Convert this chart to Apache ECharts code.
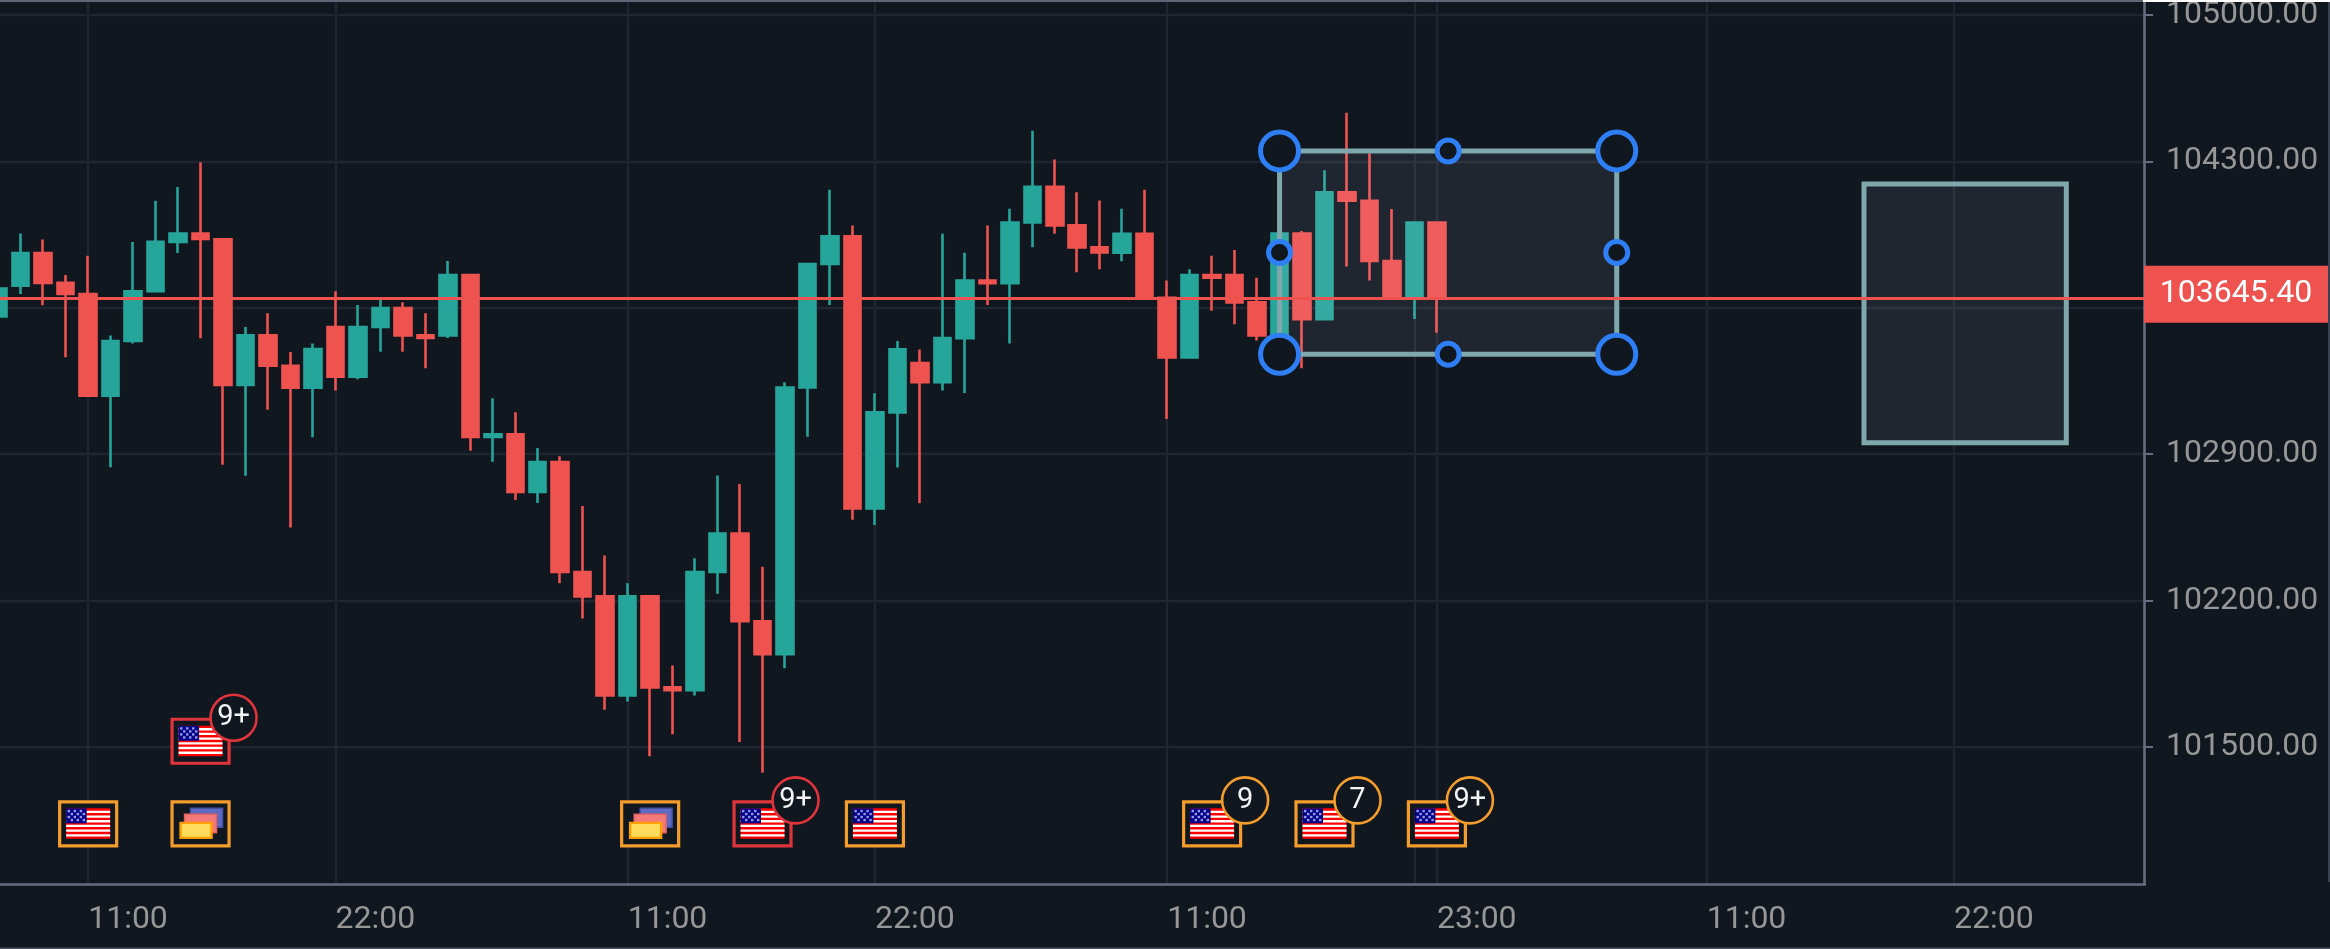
<!DOCTYPE html>
<html>
<head>
<meta charset="utf-8">
<style>html,body{margin:0;padding:0;background:#10171f}#c{width:2330px;height:949px}</style>
<script src="https://cdn.jsdelivr.net/npm/echarts@6/dist/echarts.min.js"></script>
</head>
<body>
<div id="c"></div>
<script>
// --- categories (one candle per hour) ---
const categories = [
 "07:00","08:00","09:00","10:00","11:00","12:00","13:00","14:00","15:00","16:00","17:00","18:00","19:00","20:00","21:00","22:00","23:00",
 "00:00","01:00","02:00","03:00","04:00","05:00","06:00","07:00","08:00","09:00","10:00","11:00","12:00","13:00","14:00","15:00","16:00","17:00","18:00","19:00","20:00","21:00","22:00","23:00",
 "00:00","01:00","02:00","03:00","04:00","05:00","06:00","07:00","08:00","09:00","10:00","11:00","12:00","13:00","14:00","15:00","16:00","17:00","18:00","19:00","20:00","21:00","22:00","23:00",
 "00:00","01:00","02:00","03:00","04:00","05:00","06:00","07:00","08:00","09:00","10:00","11:00","12:00","13:00","14:00","15:00","16:00","17:00","18:00","19:00","20:00","21:00","22:00","23:00",
 "00:00","01:00","02:00","03:00","04:00","05:00","06:00"
];
const timeGridIndex = [4,15,28,39,52,63,64,76,87];
const timeLabelIndex = [4,15,28,39,52,64,76,87];
const priceTicks = [101500,102200,102900,103600,104300,105000];
const lastPrice = 103645.40;

// --- OHLC series ---
const opens  = [103559,103706,103862,103719,103666,103180,103441,103679,103915,103955,103927,103231,103468,103323,103218,103508,103271,103508,103599,103468,103468,103757,102982,102995,102719,102863,102337,102220,101746,102220,101785,101772,102337,102521,102101,101944,103219,103809,103942,102640,103100,103336,103244,103455,103730,103718,104008,104178,103994,103889,103863,103954,103648,103363,103757,103757,103626,103430,103955,103546,104152,104112,103824,103652,104007];
const closes = [103692,103862,103719,103666,103180,103441,103679,103915,103955,103929,103231,103468,103323,103218,103403,103271,103508,103599,103468,103456,103757,102982,102995,102719,102863,102337,102220,101746,102220,101785,101772,102337,102521,102101,101944,103219,103809,103942,102640,103100,103401,103244,103455,103730,103718,104008,104178,103994,103889,103865,103954,103647,103363,103757,103744,103626,103468,103955,103546,104152,104112,103824,103652,104007,103645.4];
const lows   = [103559,103666,103612,103363,103180,102837,103429,103679,103862,103454,102850,102797,103113,102549,102981,103205,103258,103390,103390,103311,103456,102917,102864,102681,102667,102283,102114,101678,101718,101456,101561,101746,102233,101524,101377,101877,102983,103613,102586,102561,102836,102666,103205,103193,103613,103429,103889,103954,103770,103784,103823,103647,103068,103363,103586,103521,103443,103406,103311,103546,103797,103731,103652,103546,103481];
const highs  = [103692,103955,103927,103757,103849,103468,103915,104112,104178,104296,103927,103508,103574,103389,103429,103679,103613,103641,103626,103574,103824,103757,103167,103100,102930,102890,102652,102416,102283,102220,101890,102402,102798,102757,102362,103244,103809,104164,103994,103191,103441,103401,103954,103863,103994,104073,104446,104309,104152,104113,104073,104164,103731,103784,103849,103876,103744,103955,103967,104257,104533,104339,104072,104007,104007];

// --- drawn rectangles ---
const boxStart  = [57,83];
const boxEnd    = [72,92];
const boxTop    = [104350,104192];
const boxBottom = [103378,102955];
const boxHandles = [true,false];

// --- event markers ---
const markerIndex = [4,9,9,29,34,39,54,59,64];
const markerPrice = [101135,101530,101135,101135,101135,101135,101135,101135,101135];
const markerIcon  = ["flag","flag","stack","stack","flag","flag","flag","flag","flag"];
const markerTone  = ["o","r","o","o","r","o","o","o","o"];
const markerBadge = ["","9+","","","9+","","9","7","9+"];

const BG = "#10171f", UP = "#26a69a", DOWN = "#ef5350", AXIS = "#676d7f", GRID = "#1f2531", TXT = "#979797";
const FONT = 'Roboto';
const toneColor = {o:"#f49c2c", r:"#e0343c"};

function flagShapes(cx, cy){
  const out = [];
  const L = cx-22, T = cy-15, W = 44, H = 30.5, S = H/13;
  out.push({type:"rect",shape:{x:L,y:T,width:W,height:H},style:{fill:"#ff0000"}});
  for (let s=1;s<13;s+=2) out.push({type:"rect",shape:{x:L,y:T+s*S,width:W,height:S},style:{fill:"#ffffff"}});
  out.push({type:"rect",shape:{x:L,y:T,width:20.5,height:15},style:{fill:"#00008b"}});
  for (let r=0;r<4;r++) for (let c=0;c<6;c++) {
    if ((r+c)%2===0) out.push({type:"rect",shape:{x:L+1.5+c*3,y:T+1.5+r*3,width:2.4,height:2.4},style:{fill:"#9a9ae0"}});
  }
  return out;
}
function stackShapes(cx, cy){
  return [
    {type:"rect",shape:{x:cx-10,y:cy-15,width:32,height:19},style:{fill:"#5c6bc0",stroke:"#4350a6",lineWidth:1.5}},
    {type:"rect",shape:{x:cx-16,y:cy-9,width:32,height:18.5},style:{fill:"#f47a7a",stroke:"#e35f5f",lineWidth:1.5}},
    {type:"rect",shape:{x:cx-20,y:cy-0.5,width:31,height:15},style:{fill:"#ffdb5c",stroke:"#ffa000",lineWidth:2.4}}
  ];
}

const chart = echarts.init(document.getElementById("c"), null, {renderer:"canvas"});
chart.setOption({
  animation:false,
  backgroundColor:BG,
  grid:{left:-13,right:185,top:2,height:882,containLabel:false,outerBoundsMode:"none"},
  xAxis:{
    type:"category",data:categories,boundaryGap:true,
    axisLine:{lineStyle:{color:AXIS,width:2.6}},
    axisTick:{alignWithLabel:true,length:9,lineStyle:{color:AXIS,width:2},interval:(i)=>timeGridIndex.includes(i)},
    splitLine:{show:true,alignWithLabel:true,lineStyle:{color:GRID,width:2.4},interval:(i)=>timeGridIndex.includes(i)},
    axisLabel:{color:TXT,fontFamily:FONT,fontSize:32,margin:20,align:"left",hideOverlap:false,interval:(i)=>timeLabelIndex.includes(i)}
  },
  yAxis:{
    type:"value",position:"right",offset:-1,min:100845,max:105062,scale:true,
    axisLine:{show:true,onZero:false,lineStyle:{color:AXIS,width:2.6}},
    axisTick:{show:true,length:9,lineStyle:{color:AXIS,width:2},customValues:priceTicks},
    splitLine:{show:true,lineStyle:{color:GRID,width:2.4}},
    axisLabel:{color:TXT,fontFamily:FONT,fontSize:32,margin:22,padding:[6,0,0,0],customValues:priceTicks,formatter:(v)=>v.toFixed(2)}
  },
  graphic:[
    {type:"rect",z:100,shape:{x:0,y:0,width:2143,height:2},style:{fill:"#5f6678"},silent:true},
    {type:"rect",z:100,shape:{x:2143,y:0,width:187,height:2},style:{fill:"#ffffff"},silent:true},
    {type:"rect",z:100,shape:{x:2328,y:2,width:2,height:880},style:{fill:"#3a4150"},silent:true},
    {type:"rect",z:100,shape:{x:0,y:947.5,width:2330,height:1.5},style:{fill:"#4a5060"},silent:true}
  ],
  series:[
    {
      name:"candles",type:"candlestick",z:2,barWidth:17,silent:true,
      data:opens.map((o,i)=>[o,closes[i],lows[i],highs[i]]),
      itemStyle:{color:UP,color0:DOWN,borderColor:UP,borderColor0:DOWN,borderWidth:2.6},
      markLine:{
        silent:true,symbol:"none",z:6,animation:false,
        lineStyle:{color:DOWN,width:3,type:"solid"},
        label:{show:true,position:"end",distance:0,formatter:(p)=>p.value.toFixed(2),color:"#ffffff",fontFamily:FONT,fontSize:32,
               backgroundColor:DOWN,width:184,height:49,lineHeight:49,padding:[7,0,1,0],align:"center",verticalAlign:"middle",offset:[91,-4]},
        data:[{yAxis:lastPrice}]
      }
    },
    {
      name:"boxes",type:"custom",z:3,silent:true,clip:false,
      data:boxStart.map((s,i)=>[s,boxTop[i],boxEnd[i],boxBottom[i]]),
      encode:{x:[0,2],y:[1,3]},
      renderItem:(params,api)=>{
        const a = api.coord([api.value(0),api.value(1)]);
        const b = api.coord([api.value(2),api.value(3)]);
        const kids = [{type:"rect",shape:{x:a[0],y:a[1],width:b[0]-a[0],height:b[1]-a[1]},
          style:{fill:"rgba(235,225,255,0.075)",stroke:"#7fa8ac",lineWidth:5}}];
        if (boxHandles[params.dataIndex]) {
          const mx=(a[0]+b[0])/2+0, my=(a[1]+b[1])/2;
          [[a[0],a[1],19],[b[0],a[1],19],[a[0],b[1],19],[b[0],b[1],19],[mx,a[1],11],[mx,b[1],11],[a[0],my,11],[b[0],my,11]].forEach(h=>{
            kids.push({type:"circle",shape:{cx:h[0],cy:h[1],r:h[2]},style:{fill:BG,stroke:"#2e7ff6",lineWidth:5}});
          });
        }
        return {type:"group",children:kids};
      }
    },
    {
      name:"events",type:"custom",z:4,silent:true,clip:false,
      data:markerIndex.map((x,i)=>[x,markerPrice[i]]),
      encode:{x:0,y:1},
      renderItem:(params,api)=>{
        const p = api.coord([api.value(0),api.value(1)]);
        const i = params.dataIndex, col = toneColor[markerTone[i]];
        const cx=p[0], cy=p[1];
        const kids=[{type:"rect",shape:{x:cx-28.5,y:cy-21.5,width:57,height:44},style:{fill:BG,stroke:col,lineWidth:3.2}}];
        (markerIcon[i]==="flag"?flagShapes(cx,cy):stackShapes(cx,cy)).forEach(k=>kids.push(k));
        if (markerBadge[i]) {
          kids.push({type:"circle",shape:{cx:cx+33,cy:cy-23,r:23},style:{fill:BG,stroke:col,lineWidth:2.6}});
          kids.push({type:"text",style:{text:markerBadge[i],x:cx+33,y:cy-23,fill:"#f4f4f4",font:'29px '+FONT,align:"center",verticalAlign:"middle"}});
        }
        return {type:"group",children:kids};
      }
    }
  ]
});
</script>
</body>
</html>
